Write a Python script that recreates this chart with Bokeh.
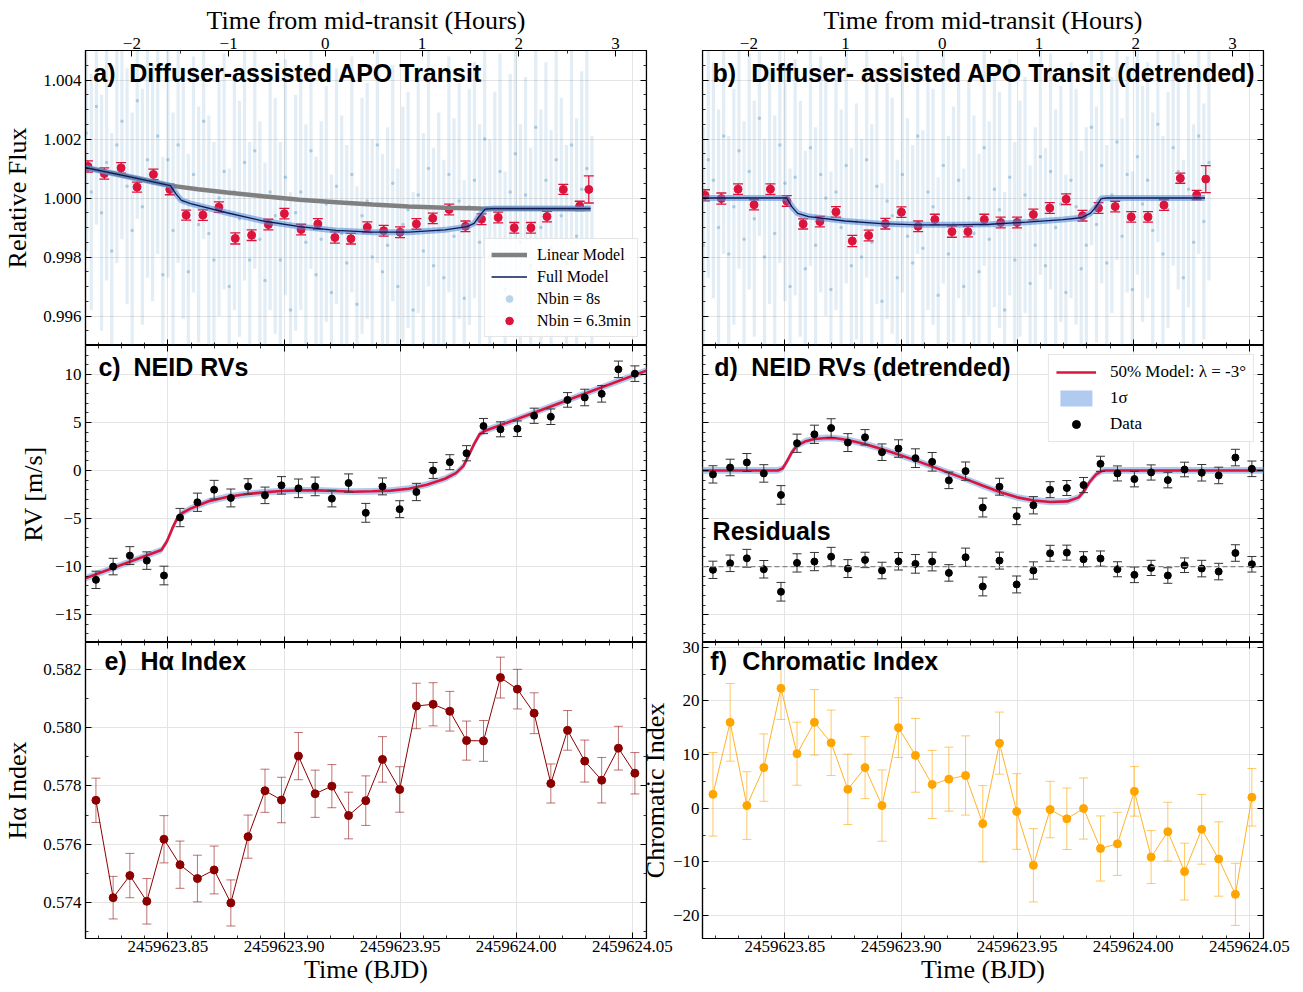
import numpy as np
from bokeh.plotting import figure
from bokeh.models import (Range1d, LinearAxis, FixedTicker, PrintfTickFormatter,
                          CustomJSTickFormatter, Label, Legend, LegendItem, Span, Grid)
from bokeh.layouts import row, column
from bokeh.embed import file_html
from bokeh.resources import INLINE

# ---------------- data (times are BJD - 2459623) ----------------
BJD0 = 2459623.0
T_MID = 0.9178
X0, X1 = 0.8145, 1.0561

T_8S = [0.8148, 0.8170, 0.8192, 0.8214, 0.8236, 0.8258, 0.8280, 0.8302, 0.8324, 0.8346,
        0.8368, 0.8390, 0.8412, 0.8434, 0.8456, 0.8478, 0.8500, 0.8522, 0.8544, 0.8566,
        0.8588, 0.8610, 0.8632, 0.8654, 0.8676, 0.8698, 0.8720, 0.8742, 0.8764, 0.8786,
        0.8808, 0.8830, 0.8852, 0.8874, 0.8896, 0.8918, 0.8940, 0.8962, 0.8984, 0.9006,
        0.9028, 0.9050, 0.9072, 0.9094, 0.9116, 0.9138, 0.9160, 0.9182, 0.9204, 0.9226,
        0.9248, 0.9270, 0.9292, 0.9314, 0.9336, 0.9358, 0.9380, 0.9402, 0.9424, 0.9446,
        0.9468, 0.9490, 0.9512, 0.9534, 0.9556, 0.9578, 0.9600, 0.9622, 0.9644, 0.9666,
        0.9688, 0.9710, 0.9732, 0.9754, 0.9776, 0.9798, 0.9820, 0.9842, 0.9864, 0.9886,
        0.9908, 0.9930, 0.9952, 0.9974, 0.9996, 1.0018, 1.0040, 1.0062, 1.0084, 1.0106,
        1.0128, 1.0150, 1.0172, 1.0194, 1.0216, 1.0238, 1.0260, 1.0282, 1.0304, 1.0326]
F_8S_RAW = [1.0022, 1.0002, 1.0031, 0.9995, 1.0012, 0.9982, 1.0018, 1.0026, 1.0004, 0.9989,
            1.0033, 0.9997, 1.0013, 1.0005, 1.0021, 0.9974, 1.0013, 0.9989, 1.0018, 0.9999,
            0.9975, 1.0008, 0.9991, 1.0026, 0.9988, 0.9979, 1.0000, 1.0009, 0.9970, 1.0002,
            0.9993, 1.0012, 0.9979, 1.0016, 0.9986, 0.9972, 1.0002, 0.9994, 0.9979, 1.0007,
            0.9962, 0.9995, 1.0002, 0.9985, 1.0016, 0.9974, 0.9986, 0.9998, 0.9968, 1.0004,
            0.9988, 0.9978, 1.0008, 0.9964, 0.9994, 0.9999, 0.9980, 1.0018, 0.9975, 0.9984,
            1.0005, 0.9970, 0.9991, 0.9996, 0.9962, 1.0001, 0.9982, 1.0010, 0.9977, 0.9989,
            0.9973, 1.0008, 0.9987, 0.9999, 0.9966, 0.9997, 1.0006, 0.9985, 1.0020, 0.9980,
            0.9996, 1.0009, 0.9969, 1.0002, 1.0015, 0.9985, 1.0001, 0.9977, 1.0024, 0.9990,
            1.0006, 0.9983, 1.0013, 0.9994, 0.9978, 1.0018, 0.9987, 1.0003, 1.0010, 0.9981]
F_8S_DET = [0.9984, 1.0013, 1.0006, 0.9990, 1.0021, 0.9981, 0.9997, 1.0016, 0.9986, 1.0009,
            0.9993, 1.0027, 0.9980, 1.0004, 0.9988, 1.0018, 1.0005, 0.9970, 1.0007, 0.9993,
            0.9976, 1.0017, 0.9984, 1.0008, 1.0000, 0.9969, 1.0002, 0.9990, 1.0011, 0.9977,
            0.9992, 0.9980, 1.0013, 0.9985, 1.0004, 0.9965, 0.9999, 0.9994, 0.9973, 1.0008,
            0.9987, 0.9978, 1.0021, 0.9983, 1.0002, 0.9997, 0.9967, 1.0011, 0.9981, 0.9991,
            1.0006, 0.9970, 1.0000, 0.9988, 0.9975, 1.0017, 0.9986, 1.0003, 0.9996, 0.9962,
            1.0007, 0.9979, 0.9993, 1.0001, 0.9971, 0.9984, 1.0014, 0.9977, 1.0009, 0.9990,
            0.9998, 0.9968, 1.0006, 0.9997, 0.9976, 0.9984, 1.0024, 0.9991, 1.0011, 0.9978,
            1.0001, 1.0019, 0.9987, 1.0008, 0.9969, 1.0014, 0.9998, 1.0006, 0.9989, 1.0025,
            0.9981, 0.9996, 1.0017, 1.0009, 0.9973, 1.0003, 0.9985, 1.0021, 0.9992, 1.0012]
E_8S = 0.0040

T_BIN = [0.81557, 0.82261, 0.82981, 0.83670, 0.84375, 0.85080, 0.85785, 0.86506, 0.87196, 0.87900,
         0.88605, 0.89326, 0.90015, 0.90735, 0.91456, 0.92192, 0.92881, 0.93586, 0.94291, 0.94996,
         0.95700, 0.96405, 0.97110, 0.97815, 0.98504, 0.99224, 0.99914, 1.00634, 1.01323, 1.02028,
         1.02733, 1.03125]
F_BIN_RAW = [1.00107, 1.00083, 1.00102, 1.00037, 1.00080, 1.00029, 0.99942, 0.99942, 0.99969, 0.99863,
             0.99874, 0.99910, 0.99947, 0.99893, 0.99912, 0.99866, 0.99862, 0.99901, 0.99889, 0.99884,
             0.99912, 0.99931, 0.99961, 0.99904, 0.99928, 0.99934, 0.99899, 0.99899, 0.99937, 1.00029,
             0.99973, 1.00029]
F_BIN_DET = [1.00009, 0.99998, 1.00030, 0.99977, 1.00030, 0.99990, 0.99912, 0.99920, 0.99953, 0.99854,
             0.99873, 0.99913, 0.99952, 0.99904, 0.99927, 0.99886, 0.99886, 0.99927, 0.99917, 0.99917,
             0.99944, 0.99966, 0.99996, 0.99940, 0.99966, 0.99971, 0.99936, 0.99936, 0.99976, 1.00067,
             1.00010, 1.00064]
E_BIN = [0.00019, 0.00019, 0.00018, 0.00017, 0.00018, 0.00018, 0.00017, 0.00018, 0.00018, 0.00019,
         0.00018, 0.00018, 0.00018, 0.00018, 0.00018, 0.00019, 0.00018, 0.00018, 0.00018, 0.00018,
         0.00018, 0.00018, 0.00018, 0.00018, 0.00018, 0.00018, 0.00018, 0.00018, 0.00018, 0.00017,
         0.00016, 0.00046]

LIN_T = [0.81275, 0.83622, 0.85111, 0.86288, 0.87541, 0.89105, 0.90670, 0.92235, 0.93801, 0.95369,
         0.96934, 0.98501, 1.03200]
LIN_F = [1.00106, 1.00067, 1.00042, 1.00030, 1.00019, 1.00006, 0.99994, 0.99986, 0.99978, 0.99971,
         0.99967, 0.99964, 0.99963]
FULL_T = [0.81275, 0.83622, 0.85111, 0.85345, 0.85581, 0.85973, 0.87541, 0.89105, 0.90670, 0.92235,
          0.93801, 0.95369, 0.96934, 0.97877, 0.98189, 0.98424, 0.98659, 0.98971, 1.03200]
FULL_F = [1.00106, 1.00067, 1.00042, 1.00014, 0.99992, 0.99981, 0.99950, 0.99922, 0.99903, 0.99890,
          0.99884, 0.99884, 0.99892, 0.99903, 0.99914, 0.99940, 0.99962, 0.99964, 0.99964]
DET_T = [0.81318, 0.85077, 0.85311, 0.85547, 0.86017, 0.87584, 0.89148, 0.90715, 0.92278, 0.93846,
         0.95413, 0.96977, 0.97761, 0.98153, 0.98389, 0.98622, 0.98859, 1.03088]
DET_F = [1.00000, 1.00000, 0.99969, 0.99948, 0.99937, 0.99922, 0.99913, 0.99909, 0.99909, 0.99911,
         0.99918, 0.99927, 0.99933, 0.99948, 0.99969, 0.99998, 1.00000, 1.00000]

T_NEID = [0.8190, 0.8264, 0.8336, 0.8409, 0.8483, 0.8552, 0.8627, 0.8699, 0.8771, 0.8845,
          0.8918, 0.8989, 0.9062, 0.9134, 0.9206, 0.9278, 0.9352, 0.9424, 0.9498, 0.9570,
          0.9642, 0.9714, 0.9786, 0.9859, 0.9932, 1.0005, 1.0077, 1.0149, 1.0221, 1.0295,
          1.0368, 1.0440, 1.0511]
RV = [-11.38, -10.00, -8.86, -9.38, -10.93, -4.90, -3.31, -2.00, -2.86, -1.66,
      -2.59, -1.55, -1.86, -1.66, -2.93, -1.31, -4.41, -1.66, -4.03, -2.24,
      0.00, 0.86, 1.79, 4.62, 4.28, 4.34, 5.69, 5.59, 7.34, 7.59,
      7.97, 10.52, 10.07]
RV_ERR = [0.90, 0.86, 0.93, 0.91, 0.97, 0.95, 0.95, 0.97, 0.93, 0.80,
          0.86, 0.91, 0.97, 0.97, 0.86, 0.95, 0.98, 0.88, 0.88, 0.90,
          0.83, 0.78, 0.79, 0.79, 0.78, 0.81, 0.79, 0.81, 0.76, 0.86,
          0.86, 0.86, 0.81]
RV_DET = [-0.41, 0.31, 0.83, -0.31, -2.55, 2.83, 3.76, 4.41, 2.90, 3.45,
          1.90, 2.28, 1.28, 0.90, -1.03, -0.07, -3.86, -1.69, -4.76, -3.62,
          -2.00, -1.83, -1.52, 0.69, -0.31, -0.90, -0.21, -1.00, 0.10, -0.24,
          -0.52, 1.34, 0.17]
RESID = [-0.34, 0.34, 0.86, -0.28, -2.62, 0.38, 0.52, 1.03, -0.21, 0.69,
         -0.41, 0.55, 0.28, 0.52, -0.66, 0.97, -2.07, 0.62, -1.86, -0.41,
         1.38, 1.45, 0.76, 0.83, -0.28, -0.86, -0.14, -0.93, 0.14, -0.21,
         -0.52, 1.41, 0.24]
RESID_OFFSET = -10.0
RVMOD_T = [0.8127, 0.8472, 0.8495, 0.8519, 0.8538, 0.8558, 0.8597, 0.8675, 0.8754, 0.8832,
           0.8910, 0.8989, 0.9067, 0.9145, 0.9224, 0.9302, 0.9380, 0.9459, 0.9537, 0.9615,
           0.9693, 0.9740, 0.9772, 0.9795, 0.9819, 0.9842, 0.9866, 1.0007, 1.0163, 1.0320,
           1.0563]
RVMOD = [-11.38, -8.28, -7.41, -6.03, -5.07, -4.48, -3.97, -3.21, -2.76, -2.48,
         -2.28, -2.14, -2.07, -2.07, -2.14, -2.21, -2.17, -2.10, -1.90, -1.48,
         -0.86, -0.28, 0.45, 1.55, 2.76, 3.76, 4.14, 5.38, 6.79, 8.21,
         10.41]
RMMOD_T = [0.8127, 0.8470, 0.8490, 0.8510, 0.8530, 0.8552, 0.8590, 0.8626, 0.8680, 0.8720,
           0.8770, 0.8844, 0.8916, 0.8989, 0.9062, 0.9135, 0.9207, 0.9280, 0.9353, 0.9425,
           0.9500, 0.9571, 0.9644, 0.9716, 0.9765, 0.9790, 0.9812, 0.9840, 0.9865, 0.9880,
           1.0563]
RMMOD = [0.0, 0.0, 0.2, 1.0, 1.9, 2.6, 3.05, 3.28, 3.38, 3.35,
         3.17, 2.76, 2.24, 1.65, 1.05, 0.40, -0.25, -0.90, -1.60, -2.25,
         -2.80, -3.12, -3.28, -3.22, -2.80, -2.10, -1.20, -0.40, -0.05, 0.0,
         0.0]
BAND_HALF = 0.35

HA = [0.577508, 0.574170, 0.574928, 0.574045, 0.576173, 0.575301, 0.574826, 0.575120, 0.573989, 0.576263,
      0.577836, 0.577519, 0.579024, 0.577734, 0.577994, 0.576987, 0.577497, 0.578911, 0.577881, 0.580744,
      0.580801, 0.580563, 0.579556, 0.579545, 0.581717, 0.581321, 0.580495, 0.578085, 0.579907, 0.578854,
      0.578198, 0.579296, 0.578436]
HA_ERR = [0.00076, 0.00073, 0.00076, 0.00078, 0.00081, 0.00081, 0.00080, 0.00082, 0.00079, 0.00074,
          0.00074, 0.00078, 0.00081, 0.00081, 0.00074, 0.00080, 0.00085, 0.00078, 0.00078, 0.00078,
          0.00074, 0.00068, 0.00067, 0.00070, 0.00070, 0.00068, 0.00070, 0.00067, 0.00068, 0.00072,
          0.00078, 0.00075, 0.00071]
CHROM = [2.59, 16.01, 0.49, 7.57, 22.35, 10.16, 16.01, 12.19, 3.51, 7.57,
         0.49, 15.02, 9.85, 4.43, 5.42, 6.10, -2.89, 12.13, -0.62, -10.65,
         -0.25, -1.97, -0.06, -7.51, -6.65, 3.14, -9.11, -4.37, -11.82, -3.94,
         -9.48, -16.07, 2.03]
CHROM_ERR = [7.79, 7.24, 6.31, 6.28, 5.80, 5.88, 6.10, 6.10, 6.56, 5.79,
             6.65, 5.57, 6.87, 6.34, 5.97, 7.39, 7.11, 5.79, 7.05, 6.83,
             5.26, 5.73, 5.70, 6.07, 5.88, 4.62, 4.93, 5.48, 5.30, 6.50,
             6.93, 5.79, 5.36]

# tick positions / labels
BJD_MAJOR = [0.85, 0.90, 0.95, 1.00, 1.05]
HOUR_MAJOR = [-2, -1, 0, 1, 2, 3]
YT_A = [0.996, 0.998, 1.000, 1.002, 1.004]
YT_C = [-15, -10, -5, 0, 5, 10]
YT_E = [0.574, 0.576, 0.578, 0.580, 0.582]
YT_F = [-20, -10, 0, 10, 20, 30]
NEG_LABELS = {-20: "\u221220", -15: "\u221215", -10: "\u221210", -5: "\u22125"}
HOUR_LABELS_B = {-1: "1"}

YR_A = (0.9950, 1.0050)
YR_C = (-17.9, 13.0)
YR_E = (0.57277, 0.58292)
YR_F = (-24.3, 30.9)

# ---------------- style / layout ----------------
SERIF = "Liberation Serif"
SANS = "Liberation Sans"
FW = 561
FH_TOP, FH_MID, FH_BOT = 295, 297, 296
L_LEFT, L_RIGHT = 80, 27
R_LEFT, R_RIGHT = 72, 35
TOP, BOTTOM = 50, 50
OVERLAP = 43
F_LIFT = 6
TICK_FS = "17px"
LABEL_FS = "26px"
TITLE_FS = "25px"
GRID_C = "#e4e4e4"
CLOUD = "#1f77b4"
RED = "#dc143c"
DARKRED = "#8b0000"
ORANGE = "#ffa500"
BAND = "#a9c4ee"


def bjd(a):
    return BJD0 + np.asarray(a, dtype=float)


BJD_TICKS = list(bjd(BJD_MAJOR))
BJD_MINOR = list(bjd(np.round(np.arange(0.81, 1.0601, 0.01), 2)))
HOUR_MINOR = list(np.arange(-2.5, 3.51, 0.5))


def new_fig(yr, fh, left, right, top, bottom, margin=None):
    kw = {}
    if margin is not None:
        kw["margin"] = margin
    p = figure(frame_width=FW, frame_height=fh,
               x_range=Range1d(BJD0 + X0, BJD0 + X1), y_range=Range1d(*yr),
               x_axis_location=None, y_axis_location=None,
               toolbar_location=None, output_backend="svg",
               min_border_left=left, min_border_right=right,
               min_border_top=top, min_border_bottom=bottom, **kw)
    p.border_fill_color = None
    p.background_fill_color = "white"
    p.outline_line_color = "black"
    p.outline_line_width = 1.2
    return p


def add_grids(p, yticks):
    p.add_layout(Grid(dimension=0, ticker=FixedTicker(ticks=BJD_TICKS),
                      grid_line_color=GRID_C, grid_line_width=1))
    p.add_layout(Grid(dimension=1, ticker=FixedTicker(ticks=yticks),
                      grid_line_color=GRID_C, grid_line_width=1))


def add_axis(p, side, ticks, minor, labels=True, fmt=None, overrides=None, label=None,
             range_name="default", standoff=4, label_pad=2, yr=None):
    if side in ("above", "below"):
        ax = LinearAxis(x_range_name=range_name)
    else:
        ax = LinearAxis(y_range_name=range_name)
    ax.ticker = FixedTicker(ticks=list(ticks), minor_ticks=list(minor))
    ax.major_tick_in, ax.major_tick_out = 6, 0
    ax.minor_tick_in, ax.minor_tick_out = 3, 0
    for attr in ("axis_line", "major_tick_line", "minor_tick_line"):
        setattr(ax, attr + "_color", "black")
    ax.axis_line_width = 1.2
    ax.major_tick_line_width = 1
    ax.minor_tick_line_width = 0.8
    if labels:
        if fmt:
            ax.formatter = PrintfTickFormatter(format=fmt)
        if overrides:
            ax.major_label_overrides = overrides
        ax.major_label_text_font = SERIF
        ax.major_label_text_font_size = TICK_FS
        ax.major_label_text_color = "black"
        ax.major_label_standoff = standoff
        if label:
            ax.axis_label = label
            ax.axis_label_text_font = SERIF
            ax.axis_label_text_font_size = LABEL_FS
            ax.axis_label_text_font_style = "normal"
            ax.axis_label_text_color = "black"
            ax.axis_label_standoff = label_pad
    else:
        ax.formatter = CustomJSTickFormatter(code="return ''")
        ax.major_label_text_font_size = "0px"
        ax.major_label_standoff = 0
        if side == "below":
            ax.fixed_location = yr[0]
        elif side == "above":
            ax.fixed_location = yr[1]
        elif side == "left":
            ax.fixed_location = BJD0 + X0
        else:
            ax.fixed_location = BJD0 + X1
    p.add_layout(ax, side)
    return ax


def panel_title(p, yr, fx_tag, fx_text, fy, tag, text):
    y = yr[1] - fy * (yr[1] - yr[0])
    for fx, s in ((fx_tag, tag), (fx_text, text)):
        if not s:
            continue
        p.add_layout(Label(x=BJD0 + X0 + fx * (X1 - X0), y=y, text=s,
                           text_font=SANS, text_font_style="bold",
                           text_font_size=TITLE_FS, text_baseline="middle",
                           text_align="left", text_color="black"))


def errorbars(p, t, y, e, color, alpha=1.0, width=1.0, cap=9):
    t = bjd(t)
    y = np.asarray(y, float)
    e = np.asarray(e, float) * np.ones_like(y)
    p.segment(t, y - e, t, y + e, line_color=color, line_alpha=alpha, line_width=width)
    if cap:
        p.scatter(np.concatenate([t, t]), np.concatenate([y - e, y + e]), marker="dash",
                  size=cap, line_color=color, line_alpha=alpha, line_width=width)


def std_y_axes(p, yt, yminor, yr, labelled, fmt=None, overrides=None, label=None, pad=8,
               standoff=4):
    if labelled:
        add_axis(p, "left", yt, yminor, fmt=fmt, overrides=overrides, label=label,
                 label_pad=pad, standoff=standoff)
    else:
        add_axis(p, "left", yt, yminor, labels=False, yr=yr)
    add_axis(p, "right", yt, yminor, labels=False, yr=yr)


def hours_axis(p, overrides=None):
    p.extra_x_ranges = {"hours": Range1d((X0 - T_MID) * 24, (X1 - T_MID) * 24)}
    add_axis(p, "above", HOUR_MAJOR, HOUR_MINOR, range_name="hours", overrides=overrides,
             label="Time from mid-transit (Hours)", standoff=2, label_pad=0)


# ---------------- panels a / b ----------------
def transit_panel(left_col, flux8, fbin, models, tag, title):
    if left_col:
        p = new_fig(YR_A, FH_TOP, L_LEFT, L_RIGHT, TOP, 0)
    else:
        p = new_fig(YR_A, FH_TOP, R_LEFT, R_RIGHT, TOP, 0)
    add_grids(p, YT_A)
    yminor = list(np.round(np.arange(0.9950, 1.00501, 0.0005), 4))
    std_y_axes(p, YT_A, yminor, YR_A, left_col, fmt="%.3f", label="Relative Flux", pad=8)
    add_axis(p, "below", BJD_TICKS, BJD_MINOR, labels=False, yr=YR_A)
    hours_axis(p, None if left_col else HOUR_LABELS_B)
    t8 = bjd(T_8S)
    f8 = np.asarray(flux8, float)
    p.segment(t8, f8 - E_8S, t8, f8 + E_8S, line_color=CLOUD, line_alpha=0.13, line_width=3.2)
    cloud = p.scatter(t8, f8, size=3.5, fill_color=CLOUD, fill_alpha=0.3, line_alpha=0)
    errorbars(p, T_BIN, fbin, E_BIN, RED, width=1.3, cap=10)
    red = p.scatter(bjd(T_BIN), fbin, size=8, fill_color=RED, line_color=RED)
    out = {"cloud": cloud, "red": red}
    for name, (mt, mf) in models.items():
        if name == "linear":
            out["linear"] = p.line(bjd(mt), mf, line_color="#808080", line_width=4.5)
        else:
            p.line(bjd(mt), mf, line_color="#4f86d6", line_width=6, line_alpha=0.55)
            out["full"] = p.line(bjd(mt), mf, line_color="#0e1a52", line_width=1.3)
    if left_col:
        panel_title(p, YR_A, 0.014, 0.078, 0.077, tag, title)
    else:
        panel_title(p, YR_A, 0.018, 0.087, 0.077, tag, title)
    return p, out


pa, ra = transit_panel(True, F_8S_RAW, F_BIN_RAW,
                       {"linear": (LIN_T, LIN_F), "full": (FULL_T, FULL_F)},
                       "a)", "Diffuser-assisted APO Transit")
pb, rb = transit_panel(False, F_8S_DET, F_BIN_DET, {"full": (DET_T, DET_F)},
                       "b)", "Diffuser- assisted APO Transit (detrended)")

leg_a = Legend(items=[
    LegendItem(label="Linear Model", renderers=[ra["linear"]]),
    LegendItem(label="Full Model", renderers=[ra["full"]]),
    LegendItem(label="Nbin = 8s", renderers=[ra["cloud"]]),
    LegendItem(label="Nbin = 6.3min", renderers=[ra["red"]]),
], location="bottom_right", label_text_font=SERIF, label_text_font_size="16px",
    label_text_color="black", border_line_color="#cccccc", background_fill_alpha=0.85,
    glyph_width=36, glyph_height=19, label_height=19, label_standoff=10, spacing=3,
    padding=6, margin=8)
pa.add_layout(leg_a)

# ---------------- panels c / d ----------------
yminor_c = list(np.arange(-17, 14, 1))
pc = new_fig(YR_C, FH_MID, L_LEFT, L_RIGHT, 0, 0)
add_grids(pc, YT_C)
std_y_axes(pc, YT_C, yminor_c, YR_C, True, overrides=NEG_LABELS, label="RV [m/s]", pad=4)
add_axis(pc, "below", BJD_TICKS, BJD_MINOR, labels=False, yr=YR_C)
add_axis(pc, "above", BJD_TICKS, BJD_MINOR, labels=False, yr=YR_C)
mod_c = np.asarray(RVMOD)
pc.varea(x=bjd(RVMOD_T), y1=mod_c - BAND_HALF, y2=mod_c + BAND_HALF, fill_color=BAND, fill_alpha=0.9)
pc.line(bjd(RVMOD_T), RVMOD, line_color=RED, line_width=2.6)
errorbars(pc, T_NEID, RV, RV_ERR, "#333333", width=1.0, cap=9)
pc.scatter(bjd(T_NEID), RV, size=7, color="black")
panel_title(pc, YR_C, 0.023, 0.0856, 0.074, "c)", "NEID RVs")

pd = new_fig(YR_C, FH_MID, R_LEFT, R_RIGHT, 0, 0)
add_grids(pd, YT_C)
std_y_axes(pd, YT_C, yminor_c, YR_C, False)
add_axis(pd, "below", BJD_TICKS, BJD_MINOR, labels=False, yr=YR_C)
add_axis(pd, "above", BJD_TICKS, BJD_MINOR, labels=False, yr=YR_C)
mod_d = np.asarray(RMMOD)
band_d = pd.varea(x=bjd(RMMOD_T), y1=mod_d - BAND_HALF, y2=mod_d + BAND_HALF,
                  fill_color=BAND, fill_alpha=0.9)
line_d = pd.line(bjd(RMMOD_T), RMMOD, line_color=RED, line_width=2.6)
errorbars(pd, T_NEID, RV_DET, RV_ERR, "#333333", width=1.0, cap=9)
data_d = pd.scatter(bjd(T_NEID), RV_DET, size=7, color="black")
pd.add_layout(Span(location=RESID_OFFSET, dimension="width", line_color="#888888",
                   line_dash="5 3", line_width=1.3))
res_y = np.asarray(RESID) + RESID_OFFSET
errorbars(pd, T_NEID, res_y, RV_ERR, "#333333", width=1.0, cap=9)
pd.scatter(bjd(T_NEID), res_y, size=7, color="black")
panel_title(pd, YR_C, 0.021, 0.087, 0.074, "d)", "NEID RVs (detrended)")
panel_title(pd, YR_C, 0.018, None, 0.623, "Residuals", None)
leg_d = Legend(items=[
    LegendItem(label="50% Model: \u03bb = -3\u00b0", renderers=[line_d]),
    LegendItem(label="1\u03c3", renderers=[band_d]),
    LegendItem(label="Data", renderers=[data_d]),
], location="top_right", label_text_font=SERIF, label_text_font_size="17px",
    label_text_color="black", border_line_color="#cccccc", background_fill_alpha=0.9,
    glyph_width=40, glyph_height=20, label_height=20, label_standoff=14, spacing=6,
    padding=7, margin=9)
pd.add_layout(leg_d)

# ---------------- panels e / f ----------------
pe = new_fig(YR_E, FH_BOT, L_LEFT, L_RIGHT, 0, BOTTOM)
add_grids(pe, YT_E)
std_y_axes(pe, YT_E, list(np.round(np.arange(0.573, 0.5831, 0.001), 3)), YR_E, True,
           fmt="%.3f", label="H\u03b1 Index", pad=8)
add_axis(pe, "above", BJD_TICKS, BJD_MINOR, labels=False, yr=YR_E)
add_axis(pe, "below", BJD_TICKS, BJD_MINOR, fmt="%.2f", label="Time (BJD)", standoff=2, label_pad=0)
errorbars(pe, T_NEID, HA, HA_ERR, DARKRED, alpha=0.55, width=1.0, cap=9)
pe.line(bjd(T_NEID), HA, line_color=DARKRED, line_width=1.0)
pe.scatter(bjd(T_NEID), HA, size=8, color=DARKRED)
panel_title(pe, YR_E, 0.034, 0.098, 0.064, "e)", "H\u03b1 Index")

pf = new_fig(YR_F, FH_BOT, R_LEFT, R_RIGHT, F_LIFT, BOTTOM, margin=(-F_LIFT, 0, 0, 0))
add_grids(pf, YT_F)
std_y_axes(pf, YT_F, list(np.arange(-20, 31, 5)), YR_F, True, overrides=NEG_LABELS,
           label="Chromatic Index", pad=0, standoff=3)
add_axis(pf, "above", BJD_TICKS, BJD_MINOR, labels=False, yr=YR_F)
add_axis(pf, "below", BJD_TICKS, BJD_MINOR, fmt="%.2f", label="Time (BJD)", standoff=2, label_pad=0)
errorbars(pf, T_NEID, CHROM, CHROM_ERR, ORANGE, alpha=0.6, width=1.0, cap=9)
pf.line(bjd(T_NEID), CHROM, line_color=ORANGE, line_width=1.0, line_alpha=0.85)
pf.scatter(bjd(T_NEID), CHROM, size=8, color=ORANGE)
panel_title(pf, YR_F, 0.014, 0.071, 0.064, "f)", "Chromatic Index")

left = column(pa, pc, pe)
right = column(pb, pd, pf, margin=(0, 0, 0, -OVERLAP))
layout = row(left, right)

open("out.html", "w").write(file_html(layout, INLINE))
